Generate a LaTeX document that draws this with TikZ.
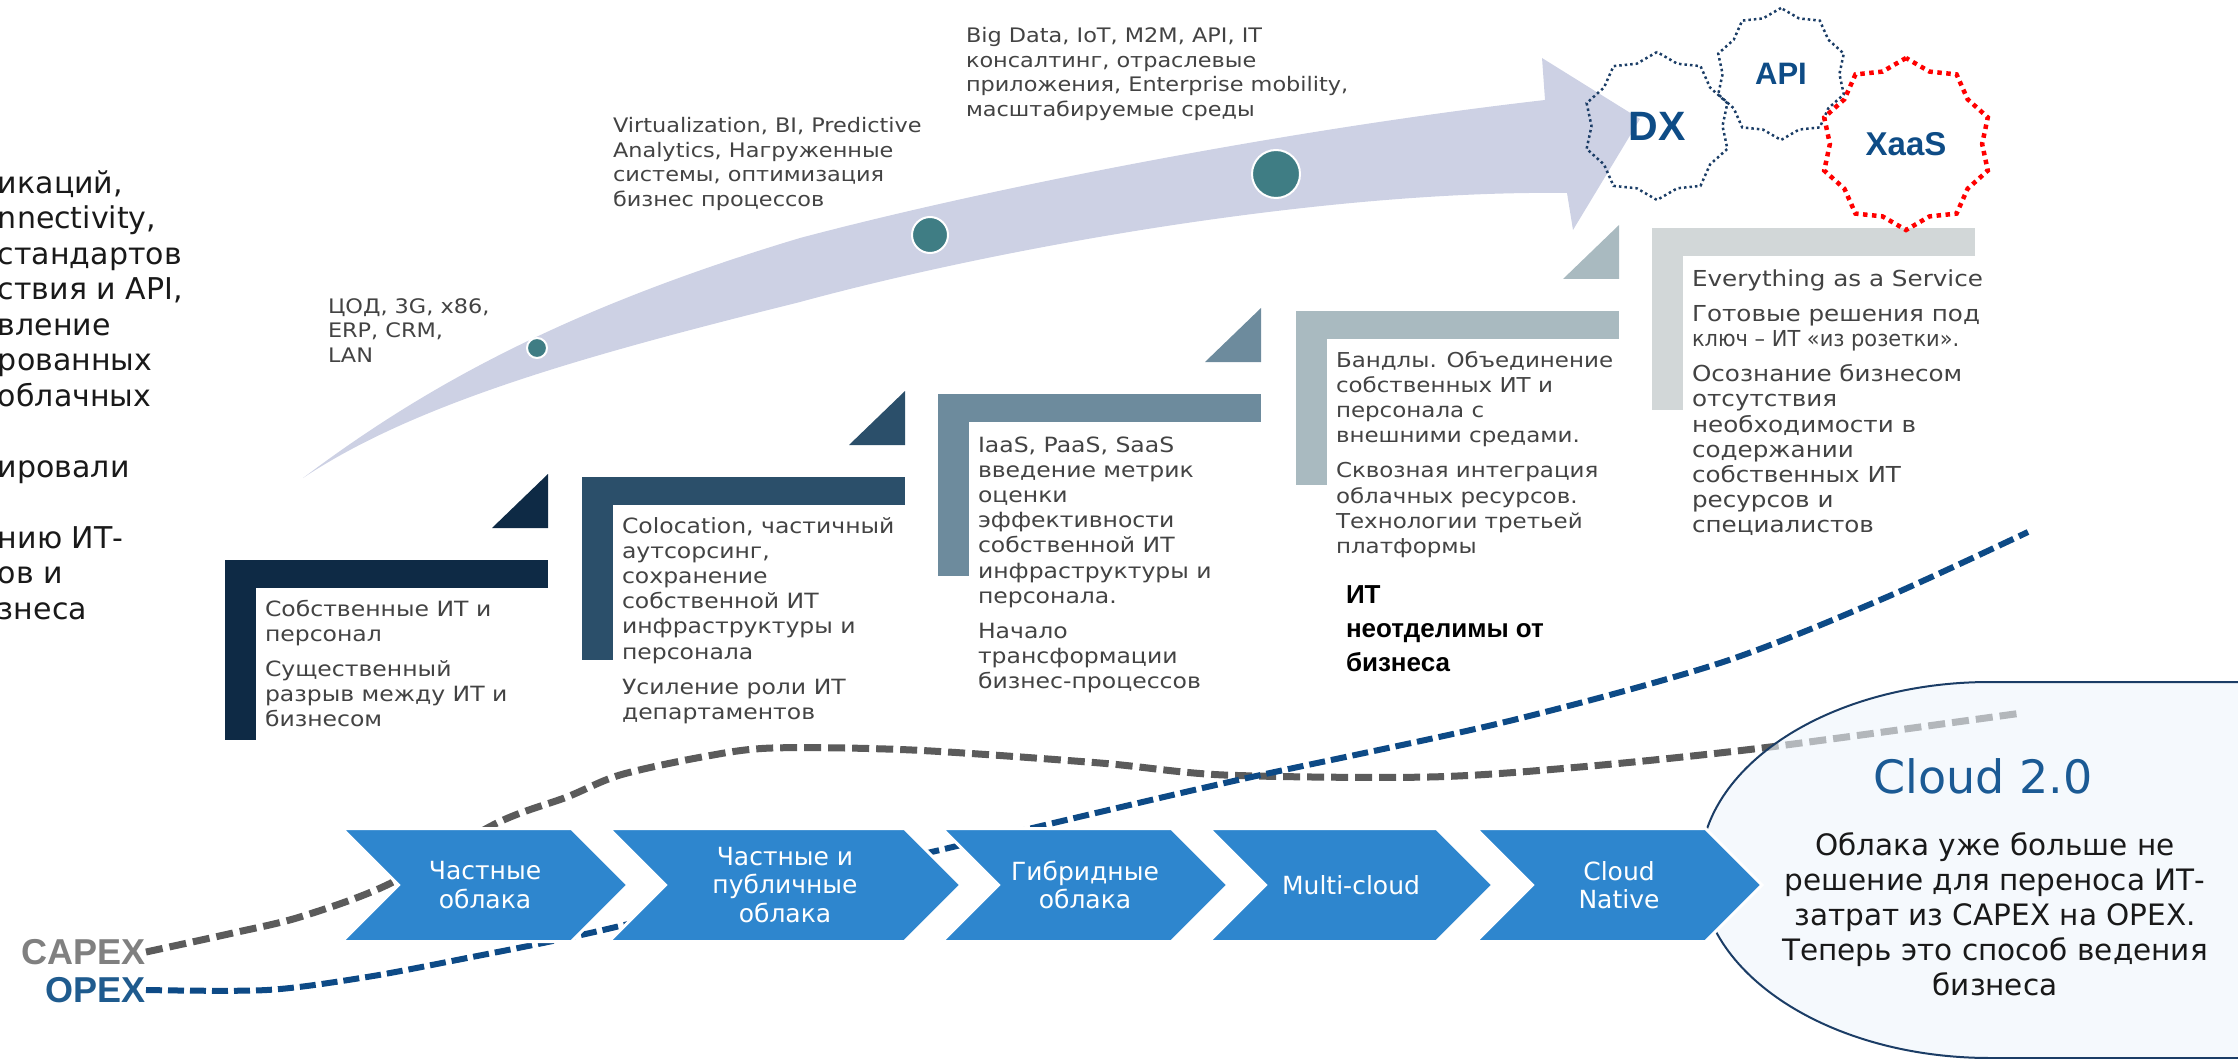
\documentclass[tikz,border=0pt]{standalone}
\usepackage{fontspec}
\usepackage{graphicx}
\setmainfont{DejaVu Sans}
\newfontfamily\arialfont{Liberation Sans}
\newfontfamily\gothicfont[FakeStretch=1.12]{DejaVu Sans}
\usetikzlibrary{shapes.symbols, shapes.geometric, positioning}

\definecolor{arrowlav}{HTML}{CDD1E4}
\definecolor{dotteal}{HTML}{3F7D84}
\definecolor{boxA}{HTML}{0E2A45}
\definecolor{boxB}{HTML}{2B4F6A}
\definecolor{boxC}{HTML}{6D8B9D}
\definecolor{boxD}{HTML}{A9BAC0}
\definecolor{boxE}{HTML}{D2D7D8}
\definecolor{boxtextc}{HTML}{434343}
\definecolor{chevblue}{HTML}{2E86CE}
\definecolor{starnavy}{HTML}{1B3D66}
\definecolor{starblue}{HTML}{0E4C86}
\definecolor{capexgrey}{HTML}{808080}
\definecolor{opexblue}{HTML}{1F5B8E}
\definecolor{greydash}{HTML}{5B5B5B}
\definecolor{bluedash}{HTML}{0D4A86}
\definecolor{cloudfill}{HTML}{EEF5FC}
\definecolor{cloudline}{HTML}{1B3D66}
\definecolor{cloudtitle}{HTML}{1B5A94}

\begin{document}
\begin{tikzpicture}[x=1pt, y=-1pt,
    every node/.style={inner sep=0pt, outer sep=0pt},
    dot/.style={circle, fill=dotteal, draw=white, line width=2pt},
    boxtext/.style={anchor=base west, align=left, text=boxtextc,
      font=\gothicfont\fontsize{21}{25.2}\selectfont},
    arrowlabel/.style={anchor=base west, align=left, text=boxtextc,
      font=\gothicfont\fontsize{20}{24.5}\selectfont},
    lefttext/.style={anchor=base west, align=left, text=black!90,
      font=\fontsize{30}{35.5}\selectfont},
    dxstar/.style={star, star points=10, star point ratio=1.13, draw=starnavy,
      line width=2.5pt, dash pattern=on 2.5pt off 3pt, text=starblue},
    xaasstar/.style={dxstar, draw=red, line width=4.5pt, dash pattern=on 4.5pt off 4.5pt},
    chevron/.style={signal, signal from=west, signal to=east, signal pointer angle=90,
      fill=chevblue, draw=white, line width=3pt, minimum height=113pt, text=white,
      align=center, font=\fontsize{25}{28.5}\selectfont},
    capexcurve/.style={draw=greydash, line width=7pt, dash pattern=on 17pt off 7pt},
    opexcurve/.style={draw=bluedash, line width=6pt, dash pattern=on 16pt off 6pt},
  ]
  \useasboundingbox (0,0) rectangle (2238,1059);
  \clip (0,0) rectangle (2238,1059);

  % timeline arrow
  \fill[arrowlav] (303,478) .. controls (420,390) and (560,310) .. (800,238)
    .. controls (1000,185) and (1300,128) .. (1545,100) -- (1542,58) -- (1640,119)
    -- (1573,230) -- (1567,193) .. controls (1330,190) and (1010,245) .. (800,302)
    .. controls (600,352) and (420,400) .. (303,478) -- cycle;
  \node[dot, minimum size=20pt] (dot1) at (537,348) {};
  \node[dot, minimum size=36pt] (dot2) at (930,235) {};
  \node[dot, minimum size=48pt] (dot3) at (1276,174) {};

  \node[arrowlabel] (lbl1) at (328,362) {ЦОД, 3G, x86,\\ERP, CRM,\\LAN};
  \node[arrowlabel] (lbl2) at (613,206.5) {Virtualization, BI, Predictive\\Analytics, Нагруженные\\системы, оптимизация\\бизнес процессов};
  \node[arrowlabel] (lbl3) at (966,116.5) {Big Data, IoT, M2M,  API, IT\\консалтинг,  отраслевые\\приложения, Enterprise mobility,\\масштабируемые среды};

  % stepped brackets
  \foreach \bx/\by/\bb/\bc in {225/560/740/boxA, 582/477/660/boxB, 938/394/576/boxC,
      1296/311/485/boxD, 1652/228/410/boxE}{
    \fill[\bc] (\bx,\by) rectangle ++(323,28);
    \fill[\bc] (\bx,\by) rectangle (\bx+31,\bb);
  }
  \foreach \bx/\by/\bc in {225/560/boxA, 582/477/boxB, 938/394/boxC, 1296/311/boxD}{
    \fill[\bc] (\bx+323,\by-86) -- (\bx+323,\by-32) -- (\bx+267,\by-32) -- cycle;
  }

  \node[boxtext] (step1) at (265,726.8) {Собственные ИТ и\\персонал\\[10pt]Существенный\\разрыв между ИТ и\\бизнесом};
  \node[boxtext] (step2) at (622,719.4) {Colocation, частичный\\аутсорсинг,\\сохранение\\собственной ИТ\\инфраструктуры и\\персонала\\[10pt]Усиление роли ИТ\\департаментов};
  \node[boxtext] (step3) at (978,688.8) {IaaS, PaaS, SaaS\\введение метрик\\оценки\\эффективности\\собственной ИТ\\инфраструктуры и\\персонала.\\[10pt]Начало\\трансформации\\бизнес-процессов};
  \node[boxtext, font=\gothicfont\fontsize{20.5}{25.2}\selectfont] (step4) at (1336,553.4) {Бандлы. Объединение\\собственных ИТ и\\персонала с\\внешними средами.\\[10pt]Сквозная интеграция\\облачных ресурсов.\\Технологии третьей\\платформы};
  \node[boxtext, font=\gothicfont\fontsize{22}{25.2}\selectfont] (step5) at (1692,532.8) {Everything as a Service\\[10pt]Готовые решения под\\\scalebox{0.85}[1]{ключ – ИТ «из розетки».}\\[10pt]Осознание бизнесом\\отсутствия\\необходимости в\\содержании\\собственных ИТ\\ресурсов и\\специалистов};
  \node[anchor=base west, align=left, font=\arialfont\bfseries\fontsize{26}{34}\selectfont] (itnote) at (1346,671) {ИТ\\неотделимы от\\бизнеса};

  \node[dxstar, minimum size=148pt, font=\arialfont\bfseries\fontsize{41}{41}\selectfont] (dx) at (1657,126) {DX};
  \node[dxstar, minimum size=132pt, font=\arialfont\bfseries\fontsize{31}{31}\selectfont] (api) at (1781,74) {API};
  \node[xaasstar, minimum size=172pt, font=\arialfont\bfseries\fontsize{33}{33}\selectfont] (xaas) at (1906,144) {XaaS};

  \node[lefttext] (intro1) at (-2,406) {икаций,\\nnectivity,\\стандартов\\ствия и API,\\вление\\рованных\\облачных};
  \node[lefttext] (intro2) at (-2,477) {ировали};
  \node[lefttext] (intro3) at (-2,619) {нию ИТ-\\ов и\\знеса};

  % CAPEX / OPEX
  \node[anchor=east, text=capexgrey, font=\arialfont\bfseries\fontsize{36}{36}\selectfont] (capex) at (146,952) {CAPEX};
  \node[anchor=east, text=opexblue, font=\arialfont\bfseries\fontsize{36}{36}\selectfont] (opex) at (146,990) {OPEX};
  \coordinate (capexend) at (2022,713);
  \coordinate (opexend) at (2028,532);
  \draw[capexcurve] plot[smooth, tension=0.5] coordinates {(capex.east) (233,933) (300,917)
    (387,885) (497,823) (567,797) (620,775) (702,757) (772,748) (912,750) (1100,763)
    (1224,775) (1429,777) (1580,767) (1762,748) (capexend)};
  \draw[opexcurve] plot[smooth, tension=0.5] coordinates {(opex.east) (267,990) (367,977)
    (467,958) (590,933) (760,892) (940,850) (1100,812) (1247,778) (1505,722) (1720,663)
    (1880,600) (opexend)};

  % Cloud 2.0
  \fill[cloudfill, fill opacity=0.6] (2240,682) -- (1990,682)
    arc[start angle=270, end angle=90, x radius=290, y radius=188] -- (2240,1058) -- cycle;
  \draw[cloudline, line width=2pt] (2240,682) -- (1990,682)
    arc[start angle=270, end angle=90, x radius=290, y radius=188] -- (2240,1058);
  \node[anchor=base, text=cloudtitle, font=\fontsize{46}{46}\selectfont] (cloudhead) at (1983,793) {Cloud 2.0};
  \node[anchor=base, align=center, text=black!90, font=\fontsize{29.5}{35}\selectfont] (cloudbody) at (1995,995) {Облака уже больше не\\решение для переноса ИТ-\\затрат из CAPEX на OPEX.\\Теперь это способ ведения\\бизнеса};

  % cloud stages
  \node[chevron, minimum width=286pt] (ch1) at (485,885) {Частные\\облака};
  \node[chevron, minimum width=352pt] (ch2) at (785,885) {Частные и\\публичные\\облака};
  \node[chevron, minimum width=286pt] (ch3) at (1085,885) {Гибридные\\облака};
  \node[chevron, minimum width=284pt] (ch4) at (1351,885) {Multi-cloud};
  \node[chevron, minimum width=286pt] (ch5) at (1619,885) {Cloud\\Native};
\end{tikzpicture}
\end{document}
